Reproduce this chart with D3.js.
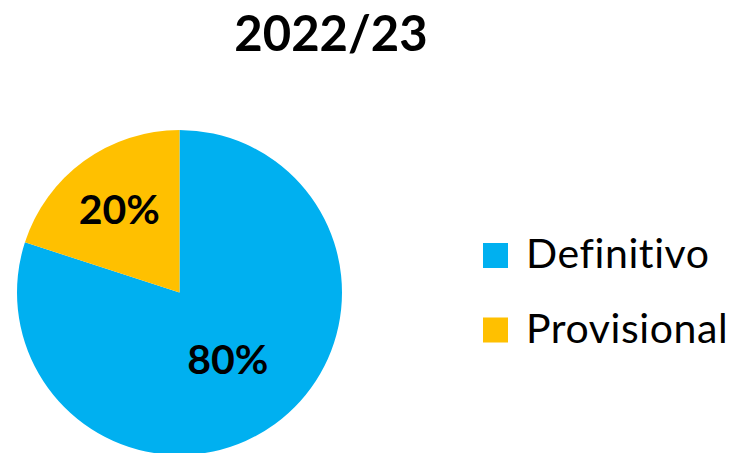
<!DOCTYPE html>
<html>
<head>
<meta charset="utf-8">
<script src="https://cdn.jsdelivr.net/npm/d3@7"></script>
<style>
    html, body { margin: 0; padding: 0; background: #fff; }
    svg { display: block; font-family: Lato, "Open Sans", sans-serif; }
</style>
</head>
<body>
<div id="chart"></div>
<script>
var title = "2022/23";
var categories = ["Definitivo", "Provisional"];
var values = [80, 20];
var colors = ["#00B0F0", "#FFC000"];

document.addEventListener('DOMContentLoaded', main);

function main() {
    var width = 739, height = 453;
    var cx = 179.5, cy = 292.5, radius = 162.5;

    var svg = d3.select("#chart")
        .append("svg")
            .attr("width", width)
            .attr("height", height);

    svg.append("text")
        .attr("x", 331)
        .attr("y", 51)
        .attr("text-anchor", "middle")
        .attr("font-weight", "bold")
        .attr("font-size", 49)
        .attr("fill", "#000")
        .text(title);

    var data = categories.map(function (c, i) {
        return { name: c, value: values[i], color: colors[i] };
    });

    var pie = d3.pie()
        .sort(null)
        .value(function (d) { return d.value; });

    var arc = d3.arc()
        .innerRadius(0)
        .outerRadius(radius);

    var g = svg.append("g")
        .attr("transform", "translate(" + cx + "," + cy + ")");

    var arcs = pie(data);

    g.selectAll("path")
        .data(arcs)
        .enter().append("path")
        .attr("d", arc)
        .attr("fill", function (d) { return d.data.color; });

    // small slices get their label pushed further out, like Excel does
    g.selectAll(".label")
        .data(arcs)
        .enter().append("text")
        .attr("class", "label")
        .attr("transform", function (d) {
            var r = d.data.value < 50 ? radius * 0.63 : radius * 0.505;
            var c = d3.arc().innerRadius(r).outerRadius(r).centroid(d);
            return "translate(" + c[0] + "," + c[1] + ")";
        })
        .attr("dy", "0.36em")
        .attr("text-anchor", "middle")
        .attr("font-weight", "bold")
        .attr("font-size", 41)
        .attr("fill", "#000")
        .text(function (d) { return d.data.value + "%"; });

    var legend = svg.append("g")
        .attr("transform", "translate(483,243)");

    var item = legend.selectAll(".item")
        .data(data)
        .enter().append("g")
        .attr("class", "item")
        .attr("transform", function (d, i) { return "translate(0," + (i * 74.5) + ")"; });

    item.append("rect")
        .attr("width", 25)
        .attr("height", 25)
        .attr("fill", function (d) { return d.color; });

    item.append("text")
        .attr("x", 43)
        .attr("y", 25)
        .attr("font-size", 41)
        .attr("letter-spacing", 0.6)
        .attr("fill", "#000")
        .text(function (d) { return d.name; });
}
</script>
</body>
</html>
